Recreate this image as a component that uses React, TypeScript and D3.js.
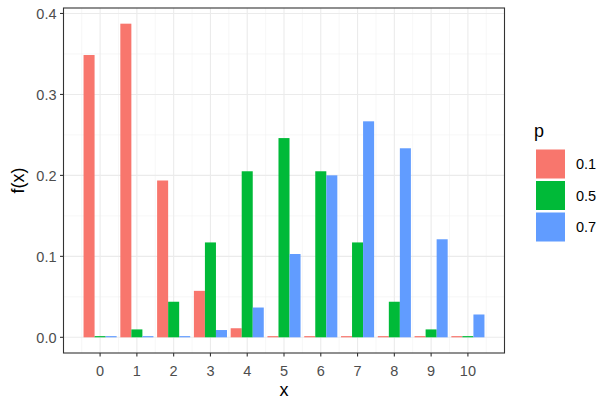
import React from "react";
import * as d3 from "d3";

const xs = [0, 1, 2, 3, 4, 5, 6, 7, 8, 9, 10];
const groups = ["0.1", "0.5", "0.7"];
const p01 = [0.3487, 0.3874, 0.1937, 0.0574, 0.0112, 0.00149, 0.000138, 0.0000087, 0.00000036, 0.000000009, 0.0000000001];
const p05 = [0.000977, 0.00977, 0.04395, 0.1172, 0.2051, 0.2461, 0.2051, 0.1172, 0.04395, 0.00977, 0.000977];
const p07 = [0.0000059, 0.000138, 0.00145, 0.009, 0.0368, 0.1029, 0.2001, 0.2668, 0.2335, 0.1211, 0.0282];
const series = [p01, p05, p07];
const colors = ["#F8766D", "#00BA38", "#619CFF"];
const yTicks = [0, 0.1, 0.2, 0.3, 0.4];
const yMinor = [0.05, 0.15, 0.25, 0.35];

export default function App() {
  const W = 603, H = 403;
  const L = 63.5, R = 504.5, T = 8, B = 353;
  const x = d3.scaleLinear().domain([-0.995, 10.995]).range([L, R]);
  const y = d3.scaleLinear().domain([-0.01937, 0.40677]).range([B, T]);
  const font = "'Liberation Sans', Arial, sans-serif";
  const bw = 0.3;
  const xMinor = d3.range(-0.5, 11, 1);
  return (
    <svg width={W} height={H} style={{ position: "absolute", left: 0, top: 0, fontFamily: font }}>
      <rect x={0} y={0} width={W} height={H} fill="white" />
      {xMinor.map((v) => (
        <line key={"xm" + v} x1={x(v)} x2={x(v)} y1={T} y2={B} stroke="#F2F2F2" strokeWidth={0.6} />
      ))}
      {yMinor.map((v) => (
        <line key={"ym" + v} x1={L} x2={R} y1={y(v)} y2={y(v)} stroke="#F2F2F2" strokeWidth={0.6} />
      ))}
      {xs.map((v) => (
        <line key={"xg" + v} x1={x(v)} x2={x(v)} y1={T} y2={B} stroke="#EBEBEB" strokeWidth={1.1} />
      ))}
      {yTicks.map((v) => (
        <line key={"yg" + v} x1={L} x2={R} y1={y(v)} y2={y(v)} stroke="#EBEBEB" strokeWidth={1.1} />
      ))}
      {series.map((s, gi) =>
        s.map((v, i) => {
          const x0 = xs[i] - 0.45 + gi * bw;
          const yTop = y(v);
          const y0 = y(0);
          const h = Math.max(y0 - yTop, 1.2);
          return (
            <rect key={gi + "-" + i} x={x(x0)} width={x(x0 + bw) - x(x0)} y={y0 - h} height={h} fill={colors[gi]} />
          );
        })
      )}
      <rect x={L} y={T} width={R - L} height={B - T} fill="none" stroke="#333333" strokeWidth={1.1} />
      {yTicks.map((v) => (
        <g key={"yt" + v}>
          <line x1={L - 3.5} x2={L} y1={y(v)} y2={y(v)} stroke="#333333" strokeWidth={1.1} />
          <text x={L - 7} y={y(v)} dy="0.36em" textAnchor="end" fontSize={14.5} fill="#4D4D4D">
            {v.toFixed(1)}
          </text>
        </g>
      ))}
      {xs.map((v) => (
        <g key={"xt" + v}>
          <line x1={x(v)} x2={x(v)} y1={B} y2={B + 3.5} stroke="#333333" strokeWidth={1.1} />
          <text x={x(v)} y={375.5} textAnchor="middle" fontSize={14.5} fill="#4D4D4D">
            {v}
          </text>
        </g>
      ))}
      <text x={(L + R) / 2} y={396} textAnchor="middle" fontSize={18} fill="black">x</text>
      <text transform={`translate(24, ${(T + B) / 2}) rotate(-90)`} textAnchor="middle" fontSize={18} fill="black">f(x)</text>
      <text x={534} y={137} fontSize={18} fill="black">p</text>
      {groups.map((g, i) => (
        <g key={"lg" + g}>
          <rect x={536} y={149.5 + i * 31.5} width={29} height={29} fill={colors[i]} />
          <text x={576} y={164 + i * 31.5} dy="0.36em" fontSize={14.5} fill="black">{g}</text>
        </g>
      ))}
    </svg>
  );
}
